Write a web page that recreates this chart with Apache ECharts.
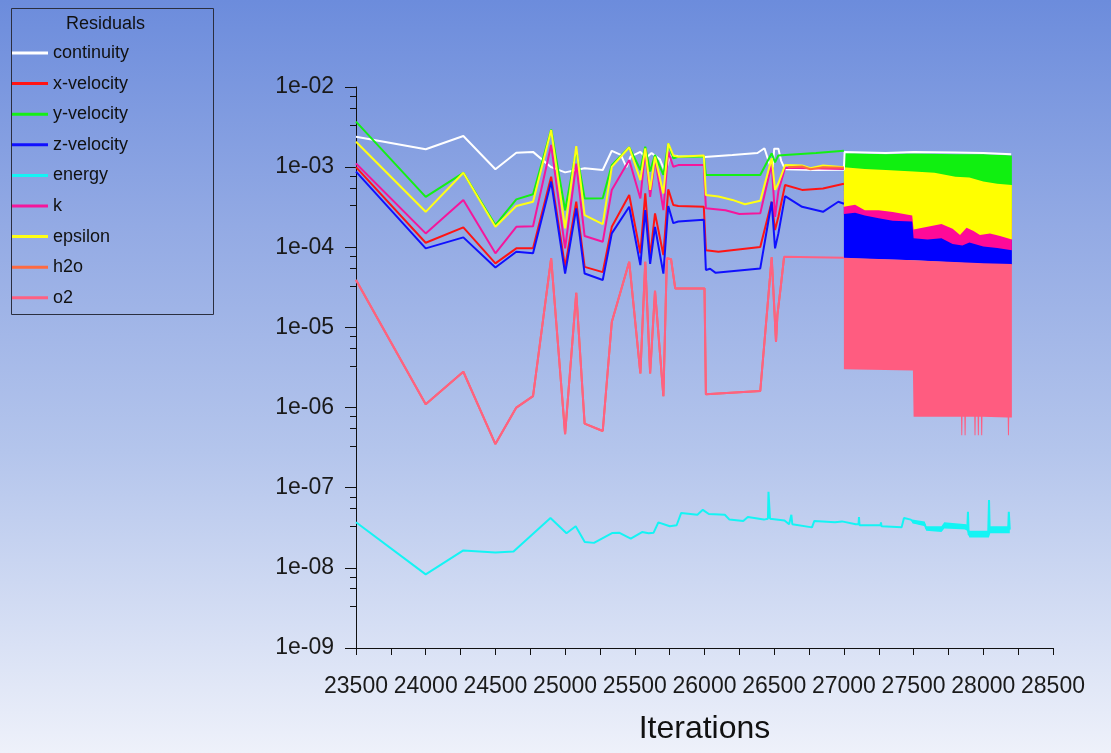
<!DOCTYPE html>
<html>
<head>
<meta charset="utf-8">
<script src="https://cdn.jsdelivr.net/npm/echarts@6/dist/echarts.min.js"></script>
<style>
  html, body { margin: 0; padding: 0; }
  #chart {
    width: 1111px; height: 753px;
    background: linear-gradient(to bottom, #6c8cdc 0%, #93aae4 30%, #b4c5ec 60%, #eef1fa 100%);
  }
</style>
</head>
<body>
<div id="chart"></div>
<script>
// residual history, [iteration, residual]
var continuity = [[23500, 2.4e-3], [24000, 1.67e-3], [24270, 2.45e-3], [24500, 9.4e-4], [24650, 1.51e-3], [24770, 1.55e-3],
  [24900, 1.0e-3], [25000, 8.6e-4], [25140, 9.7e-4], [25270, 9.2e-4], [25335, 1.6e-3], [25400, 1.42e-3], [25440, 1.0e-3],
  [25470, 1.35e-3], [25540, 1.55e-3], [25580, 1.3e-3], [25620, 1.5e-3], [25680, 1.25e-3], [25720, 8.4e-4], [25750, 1.4e-3],
  [25812, 1.38e-3], [26000, 1.34e-3], [26200, 1.42e-3], [26380, 1.5e-3], [26430, 1.72e-3], [26470, 1.05e-3], [26490, 1.0e-3],
  [26500, 1.7e-3], [26530, 1.7e-3], [26550, 1.2e-3], [26578, 9.4e-4], [26800, 9.2e-4], [27000, 9.3e-4], [27005, 1.55e-3],
  [27300, 1.5e-3], [27500, 1.55e-3], [27800, 1.52e-3], [28000, 1.5e-3], [28200, 1.45e-3]];
var xVelocity = [[23500, 1.0e-3], [24000, 1.14e-4], [24270, 1.77e-4], [24500, 6.3e-5], [24650, 9.7e-5], [24770, 9.7e-5],
  [24900, 7.6e-4], [25000, 5.7e-5], [25080, 3.7e-4], [25140, 5.7e-5], [25270, 4.9e-5], [25335, 1.8e-4], [25460, 4.49e-4],
  [25540, 8.4e-5], [25575, 4.71e-4], [25610, 7.6e-5], [25645, 2.65e-4], [25705, 8.0e-5], [25740, 5.3e-4], [25776, 3.37e-4],
  [25812, 3.27e-4], [25995, 3.2e-4], [26010, 9.2e-5], [26100, 8.8e-5], [26400, 1.01e-4], [26482, 3.7e-4], [26506, 1.64e-4],
  [26530, 2.4e-4], [26578, 5.98e-4], [26700, 5.2e-4], [26850, 5.4e-4], [27000, 6.2e-4]];
var yVelocity = [[23500, 3.7e-3], [24000, 4.26e-4], [24270, 8.5e-4], [24500, 1.89e-4], [24650, 3.96e-4], [24770, 4.6e-4],
  [24900, 2.95e-3], [25000, 2.9e-4], [25080, 1.63e-3], [25140, 4.07e-4], [25270, 4.1e-4], [25335, 1.06e-3], [25460, 1.77e-3],
  [25540, 9.2e-4], [25575, 1.8e-3], [25610, 8.8e-4], [25645, 1.42e-3], [25705, 8.0e-4], [25740, 1.98e-3], [25776, 1.29e-3],
  [25812, 1.35e-3], [25995, 1.35e-3], [26010, 7.96e-4], [26400, 7.96e-4], [26482, 1.49e-3], [26506, 1.15e-3], [26530, 1.4e-3],
  [26578, 1.42e-3], [26800, 1.5e-3], [27000, 1.6e-3]];
var zVelocity = [[23500, 8.8e-4], [24000, 9.7e-5], [24270, 1.33e-4], [24500, 5.6e-5], [24650, 8.8e-5], [24770, 8.4e-5],
  [24900, 6.6e-4], [25000, 4.7e-5], [25080, 3.06e-4], [25140, 4.7e-5], [25270, 3.9e-5], [25335, 1.49e-4], [25460, 3.2e-4],
  [25540, 6.0e-5], [25575, 2.91e-4], [25610, 6.2e-5], [25645, 1.8e-4], [25705, 4.7e-5], [25740, 3.27e-4], [25776, 2.0e-4],
  [25812, 2.1e-4], [25995, 2.2e-4], [26010, 5.2e-5], [26040, 5.4e-5], [26080, 4.8e-5], [26400, 5.45e-5], [26482, 3.7e-4],
  [26506, 9.7e-5], [26530, 1.49e-4], [26578, 4.35e-4], [26700, 3.2e-4], [26850, 2.77e-4], [26960, 3.7e-4], [27000, 3.5e-4]];
var energy = [[23500, 3.7e-8], [24000, 8.3e-9], [24270, 1.65e-8], [24500, 1.55e-8], [24630, 1.6e-8], [24895, 4.2e-8],
  [25010, 2.7e-8], [25076, 3.3e-8], [25141, 2.1e-8], [25207, 2.05e-8], [25340, 2.73e-8], [25387, 2.75e-8], [25471, 2.32e-8],
  [25552, 2.8e-8], [25600, 2.7e-8], [25635, 2.75e-8], [25669, 3.7e-8], [25751, 3.3e-8], [25800, 3.4e-8], [25833, 4.85e-8],
  [25949, 4.6e-8], [25988, 5.3e-8], [26031, 4.7e-8], [26146, 4.6e-8], [26179, 4.0e-8], [26278, 3.85e-8], [26311, 4.3e-8],
  [26426, 4.0e-8], [26455, 4.1e-8], [26459, 8.9e-8], [26470, 4.1e-8], [26574, 3.9e-8], [26607, 3.5e-8], [26623, 4.6e-8],
  [26630, 3.5e-8], [26771, 3.2e-8], [26788, 3.85e-8], [26936, 3.7e-8], [26986, 3.8e-8], [27085, 3.5e-8], [27105, 3.5e-8],
  [27108, 4.3e-8], [27112, 3.4e-8], [27263, 3.4e-8], [27266, 3.7e-8], [27270, 3.3e-8], [27414, 3.2e-8], [27431, 4.2e-8],
  [27480, 4.0e-8], [27500, 3.7e-8], [27580, 3.5e-8], [27590, 3.1e-8], [27700, 3.0e-8], [27720, 3.4e-8], [27860, 3.2e-8],
  [27885, 3.0e-8], [27890, 5.0e-8], [27895, 2.6e-8], [28035, 2.6e-8], [28041, 7.0e-8], [28046, 2.9e-8], [28178, 2.9e-8],
  [28183, 5.0e-8], [28190, 3.0e-8]];
var kResidual = [[23500, 1.11e-3], [24000, 1.49e-4], [24270, 3.88e-4], [24500, 8.4e-5], [24650, 1.8e-4], [24770, 1.83e-4],
  [24900, 1.89e-3], [25000, 9.7e-5], [25080, 1.11e-3], [25140, 1.38e-4], [25270, 1.17e-4], [25335, 5.2e-4], [25460, 1.23e-3],
  [25540, 4.07e-4], [25575, 1.63e-3], [25610, 4.26e-4], [25645, 1.29e-3], [25705, 2.91e-4], [25740, 1.56e-3], [25776, 1.01e-3],
  [25812, 1.06e-3], [25995, 1.06e-3], [26010, 3.06e-4], [26150, 2.9e-4], [26250, 2.6e-4], [26400, 2.65e-4], [26482, 1.1e-3],
  [26506, 2.4e-4], [26530, 5.0e-4], [26578, 9.8e-4], [27000, 9.5e-4]];
var epsilon = [[23500, 2.07e-3], [24000, 2.77e-4], [24270, 8.5e-4], [24500, 1.8e-4], [24650, 3.27e-4], [24770, 3.7e-4],
  [24900, 2.9e-3], [25000, 1.72e-4], [25080, 1.83e-3], [25140, 2.52e-4], [25270, 1.95e-4], [25335, 1.01e-3], [25460, 1.77e-3],
  [25540, 6.9e-4], [25575, 1.71e-3], [25610, 5.2e-4], [25645, 1.35e-3], [25705, 4.7e-4], [25740, 1.98e-3], [25776, 1.4e-3],
  [25812, 1.35e-3], [25995, 1.4e-3], [26010, 4.5e-4], [26100, 4.3e-4], [26200, 3.9e-4], [26290, 3.45e-4], [26400, 3.8e-4],
  [26482, 1.29e-3], [26506, 5.2e-4], [26530, 6.3e-4], [26578, 1.06e-3], [26700, 1.05e-3], [26760, 9.7e-4], [26850, 1.05e-3],
  [27000, 1.0e-3]];
var h2o = [[23500, 3.9e-5], [24000, 1.1e-6], [24270, 2.8e-6], [24500, 3.5e-7], [24650, 1.0e-6], [24770, 1.39e-6],
  [24900, 7.3e-5], [25000, 4.66e-7], [25080, 2.7e-5], [25140, 6.3e-7], [25270, 5.1e-7], [25335, 1.17e-5], [25460, 6.6e-5],
  [25540, 2.67e-6], [25575, 6.6e-5], [25610, 2.67e-6], [25645, 2.86e-5], [25705, 1.39e-6], [25730, 7.3e-5], [25760, 7.1e-5],
  [25790, 3.07e-5], [26000, 3.07e-5], [26010, 1.47e-6], [26400, 1.61e-6], [26482, 7.5e-5], [26513, 6.6e-6], [26523, 1.43e-5],
  [26547, 3.2e-5], [26571, 7.6e-5], [26575, '-'], [26600, 1.0e-3], [26700, 1.02e-3], [26760, 9.4e-4], [26850, 1.0e-3],
  [27000, 9.8e-4]];
var o2 = [[23500, 3.9e-5], [24000, 1.1e-6], [24270, 2.8e-6], [24500, 3.5e-7], [24650, 1.0e-6], [24770, 1.39e-6],
  [24900, 7.3e-5], [25000, 4.66e-7], [25080, 2.7e-5], [25140, 6.3e-7], [25270, 5.1e-7], [25335, 1.17e-5], [25460, 6.6e-5],
  [25540, 2.67e-6], [25575, 6.6e-5], [25610, 2.67e-6], [25645, 2.86e-5], [25705, 1.39e-6], [25730, 7.3e-5], [25760, 7.1e-5],
  [25790, 3.07e-5], [26000, 3.07e-5], [26010, 1.47e-6], [26400, 1.61e-6], [26482, 7.5e-5], [26513, 6.6e-6], [26523, 1.43e-5],
  [26547, 3.2e-5], [26554, 3.2e-5], [26571, 7.6e-5], [27000, 7.4e-5]];

// oscillating stretch after 27000: upper / lower envelopes
var yVelHi = [[27000, 1.5e-3], [27300, 1.45e-3], [27500, 1.48e-3], [27800, 1.45e-3], [28000, 1.45e-3], [28205, 1.4e-3]];
var yVelLo = [[27000, 5.0e-4], [27500, 4.0e-4], [28000, 3.5e-4], [28205, 3.0e-4]];
var xVelHi = [[27000, 6.2e-4], [27500, 5.5e-4], [28205, 4.5e-4]];
var xVelLo = [[27000, 2.5e-4], [27500, 2.2e-4], [28205, 1.6e-4]];
var zVelHi = [[27000, 3.2e-4], [27500, 2.8e-4], [28205, 1.8e-4]];
var zVelLo = [[27000, 7.3e-5], [27500, 6.9e-5], [28000, 6.2e-5], [28205, 6.0e-5]];
var energyHi = [[27490, 4.0e-8], [27580, 3.8e-8], [27590, 3.3e-8], [27700, 3.3e-8], [27720, 3.7e-8], [27880, 3.5e-8],
  [27900, 2.9e-8], [28040, 2.9e-8], [28050, 3.3e-8], [28190, 3.3e-8]];
var energyLo = [[27490, 3.6e-8], [27580, 3.3e-8], [27590, 2.9e-8], [27700, 2.8e-8], [27720, 3.1e-8], [27880, 3.0e-8],
  [27900, 2.4e-8], [28040, 2.4e-8], [28050, 2.7e-8], [28190, 2.7e-8]];
var kHi = [[27000, 4.0e-4], [27500, 3.0e-4], [28205, 2.0e-4]];
var kLo = [[27000, 2.6e-4], [27080, 2.7e-4], [27150, 2.5e-4], [27250, 2.3e-4], [27350, 2.15e-4], [27490, 2.1e-4],
  [27500, 1.3e-4], [27600, 1.25e-4], [27700, 1.3e-4], [27780, 1.1e-4], [27850, 1.05e-4], [27900, 1.15e-4], [28000, 1.02e-4],
  [28100, 9.8e-5], [28205, 9.2e-5]];
var epsHi = [[27000, 1.0e-3], [27150, 9.5e-4], [27300, 9.2e-4], [27500, 8.8e-4], [27650, 8.5e-4], [27800, 7.6e-4],
  [27900, 7.4e-4], [28000, 6.6e-4], [28100, 6.2e-4], [28205, 6.0e-4]];
var epsLo = [[27000, 3.2e-4], [27080, 3.4e-4], [27150, 2.9e-4], [27250, 2.9e-4], [27350, 2.75e-4], [27490, 2.5e-4],
  [27500, 1.67e-4], [27600, 1.8e-4], [27700, 1.95e-4], [27780, 1.7e-4], [27833, 1.42e-4], [27880, 1.75e-4], [27930, 1.6e-4],
  [27976, 1.42e-4], [28048, 1.49e-4], [28120, 1.38e-4], [28205, 1.25e-4]];
var o2Hi = [[27000, 7.4e-5], [27500, 6.9e-5], [28000, 6.3e-5], [28205, 6.2e-5]];
var o2Lo = [[27000, 3.0e-6], [27495, 2.9e-6], [27500, 7.7e-7], [27840, 7.7e-7], [27842, 4.5e-7], [27849, 4.5e-7],
  [27851, 7.7e-7], [27864, 7.7e-7], [27866, 4.5e-7], [27873, 4.5e-7], [27875, 7.7e-7], [27935, 7.7e-7], [27937, 4.5e-7],
  [27944, 4.5e-7], [27946, 7.7e-7], [27959, 7.7e-7], [27961, 4.5e-7], [27968, 4.5e-7], [27970, 7.7e-7], [27983, 7.7e-7],
  [27985, 4.5e-7], [27992, 4.5e-7], [27994, 7.7e-7], [28175, 7.5e-7], [28177, 4.5e-7], [28184, 4.5e-7], [28186, 7.5e-7],
  [28205, 7.5e-7]];

var names = ['continuity', 'x-velocity', 'y-velocity', 'z-velocity', 'energy', 'k', 'epsilon', 'h2o', 'o2'];
var colors = ['#ffffff', '#ff1414', '#14f014', '#1010ff', '#14f4f4', '#f5169c', '#ffff14', '#ff6a40', '#ff6082'];
var yTickLabels = ['1e-09', '1e-08', '1e-07', '1e-06', '1e-05', '1e-04', '1e-03', '1e-02'];
var yMinorTicks = [];
for (var d = -9; d < -2; d++) {
  yMinorTicks.push(3.3 * Math.pow(10, d), 5.5 * Math.pow(10, d), 7.7 * Math.pow(10, d));
}

var chart = echarts.init(document.getElementById('chart'));

function lineSeries(i, data) {
  return {
    name: names[i], type: 'line', data: data, showSymbol: false, symbol: 'none',
    connectNulls: false,
    lineStyle: { color: colors[i], width: 2 },
    itemStyle: { color: colors[i] },
    silent: true
  };
}

function bandSeries(i, hi, lo, fill) {
  return {
    name: names[i], type: 'custom', coordinateSystem: 'cartesian2d', silent: true,
    data: [hi[0]],
    encode: { x: 0, y: 1 },
    itemStyle: { color: colors[i] },
    renderItem: function (params, api) {
      var pts = hi.map(function (p) { return api.coord(p); })
        .concat(lo.slice().reverse().map(function (p) { return api.coord(p); }));
      return { type: 'polygon', shape: { points: pts }, style: { fill: fill || colors[i] } };
    }
  };
}

var option = {
  animation: false,
  textStyle: { fontFamily: 'Liberation Sans, Arial, sans-serif' },
  grid: { left: 356, right: 58, top: 87, bottom: 105 },
  legend: {
    orient: 'vertical', left: 12, top: 43, padding: 0,
    itemWidth: 36, itemHeight: 3, itemGap: 10.6,
    icon: 'rect',
    data: names,
    textStyle: { fontSize: 18, color: '#111', lineHeight: 20 },
    selectedMode: false
  },
  graphic: [
    { type: 'rect', left: 9, top: 6, shape: { width: 202, height: 306 },
      style: { fill: 'none', stroke: '#2b2f40', lineWidth: 1 } },
    { type: 'text', left: 66, top: 15,
      style: { text: 'Residuals', fontSize: 18, fill: '#111', fontFamily: 'Liberation Sans, Arial, sans-serif' } }
  ],
  xAxis: {
    type: 'value', min: 23500, max: 28500, interval: 500,
    name: 'Iterations', nameLocation: 'middle', nameGap: 65,
    nameTextStyle: { fontSize: 32, color: '#111' },
    axisLine: { show: true, lineStyle: { color: '#111', width: 1 } },
    axisTick: { show: true, length: 7, lineStyle: { color: '#111' } },
    minorTick: { show: true, splitNumber: 2, length: 7, lineStyle: { color: '#111' } },
    axisLabel: {
      fontSize: 23, color: '#1a1a1a', margin: 27,
      interval: 0, hideOverlap: false, showMinLabel: true, showMaxLabel: true,
      formatter: function (v) { return String(v); }
    },
    splitLine: { show: false }
  },
  yAxis: [{
    type: 'log', logBase: 10, min: 1e-9, max: 1e-2, splitNumber: 7,
    axisLine: { show: true, lineStyle: { color: '#111', width: 1 } },
    axisTick: { show: true, length: 11, lineStyle: { color: '#111' } },
    axisLabel: {
      fontSize: 23, color: '#1a1a1a', margin: 22,
      formatter: function (v) { return yTickLabels[Math.round(Math.log10(v)) + 9]; }
    },
    splitLine: { show: false }
  }, {
    type: 'log', logBase: 10, min: 1e-9, max: 1e-2, position: 'left',
    axisLine: { show: false },
    axisTick: { show: true, length: 6, customValues: yMinorTicks, lineStyle: { color: '#111' } },
    axisLabel: { show: false },
    splitLine: { show: false }
  }],
  series: [
    lineSeries(0, continuity),
    lineSeries(1, xVelocity), bandSeries(1, xVelHi, xVelLo),
    lineSeries(2, yVelocity), bandSeries(2, yVelHi, yVelLo, '#10f010'),
    lineSeries(3, zVelocity), bandSeries(3, zVelHi, zVelLo, '#0000ff'),
    bandSeries(4, energyHi, energyLo), lineSeries(4, energy),
    lineSeries(5, kResidual), bandSeries(5, kHi, kLo, '#ff0a98'),
    lineSeries(6, epsilon), bandSeries(6, epsHi, epsLo, '#ffff00'),
    lineSeries(7, h2o),
    lineSeries(8, o2), bandSeries(8, o2Hi, o2Lo, '#ff5c80')
  ]
};
chart.setOption(option);
</script>
</body>
</html>
